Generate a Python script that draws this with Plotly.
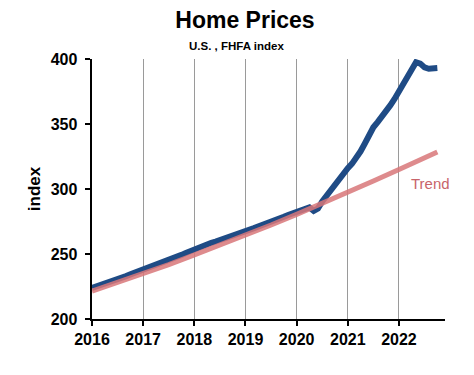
import plotly.graph_objects as go

# Monthly FHFA index (Jan 2016 .. Oct 2022)
years = [2016, 2017, 2018, 2019, 2020, 2021, 2022]
hpi_2016 = [224, 225, 226.2, 227.3, 228.3, 229.5, 230.6, 231.8, 233, 234.3, 235.5, 236.6]
hpi_2017 = [237.5, 238.5, 240, 241.4, 242.6, 243.8, 245.2, 246.4, 247.8, 249.3, 250.8, 252.3]
hpi_2018 = [253.5, 254.8, 256, 257.4, 258.6, 259.6, 260.6, 261.6, 262.8, 264, 265.2, 266.5]
hpi_2019 = [267.8, 268.8, 269.9, 271, 272.2, 273.4, 274.6, 275.9, 277.2, 278.6, 280, 281.3]
hpi_2020 = [282.3, 283.5, 285, 285.8, 283.2, 285, 290.5, 295, 299.5, 304, 308, 312]
hpi_2021 = [316, 319.5, 324, 329, 335, 342, 347.5, 351.5, 355.5, 359.5, 364.5, 369.5]
hpi_2022 = [375, 381, 387.5, 393.5, 397.5, 396.5, 393.5, 392.5, 392.5, 393]

# Trend line (semi-annual)
trend_x = [2016.0, 2016.5, 2017.0, 2017.5, 2018.0, 2018.5, 2019.0, 2019.5,
           2020.0, 2020.5, 2021.0, 2021.5, 2022.0, 2022.5, 2022.75]
trend_y = [221.5, 228, 234.8, 241.8, 249.3, 256.8, 264.5, 272.3,
           280.5, 288.8, 297.5, 306.2, 315, 324, 328.5]

y_ticks = [200, 250, 300, 350, 400]
x_ticks = years

hpi_series = [hpi_2016, hpi_2017, hpi_2018, hpi_2019, hpi_2020, hpi_2021, hpi_2022]
hpi_x, hpi_y = [], []
for yr, vals in zip(years, hpi_series):
    for m, v in enumerate(vals):
        hpi_x.append(yr + m / 12)
        hpi_y.append(v)

FONT = "Liberation Sans, Arial, sans-serif"

fig = go.Figure()
fig.add_trace(go.Scatter(x=hpi_x, y=hpi_y, mode="lines",
                         line=dict(color="#1f4b85", width=6), showlegend=False))
fig.add_trace(go.Scatter(x=trend_x, y=trend_y, mode="lines", opacity=0.85,
                         line=dict(color="#d9777a", width=5), showlegend=False))

fig.update_layout(
    width=474, height=375,
    margin=dict(l=84, r=37, t=51, b=64),
    paper_bgcolor="white", plot_bgcolor="white",
    font=dict(family=FONT, color="black"),
    title=dict(text="<b>Home Prices</b>", x=0.5, xanchor="center", y=0.967, yanchor="middle",
               font=dict(size=23, family=FONT, color="black")),
    xaxis=dict(range=[2016, 2022.9], tickvals=x_ticks, ticktext=[f"<b>{t}</b>" for t in x_ticks],
               showgrid=True, gridcolor="#9a9a9a", gridwidth=1,
               showline=True, linecolor="black", linewidth=2,
               ticks="outside", ticklen=5, tickwidth=2, tickcolor="black",
               tickfont=dict(size=16, family=FONT), zeroline=False),
    yaxis=dict(range=[200, 400], tickvals=y_ticks,
               ticktext=[f"<b>{t}</b>\u00a0" for t in y_ticks],
               showgrid=False, showline=True, linecolor="black", linewidth=2,
               ticks="outside", ticklen=5, tickwidth=2, tickcolor="black",
               tickfont=dict(size=16, family=FONT), zeroline=False,
               title=dict(text="<b>index</b>", font=dict(size=17, family=FONT), standoff=6)),
    annotations=[
        dict(text="<b>U.S. , FHFA index</b>", xref="paper", yref="paper",
             x=0.41, y=1.0, xanchor="center", yanchor="middle", yshift=13,
             showarrow=False, font=dict(size=11.5, family=FONT, color="black")),
        dict(text="Trend", xref="x", yref="y", x=2022.2, y=304, xanchor="left",
             yanchor="middle", showarrow=False,
             font=dict(size=15, family=FONT, color="#c8646a")),
    ],
)

fig.write_html("out.html")
